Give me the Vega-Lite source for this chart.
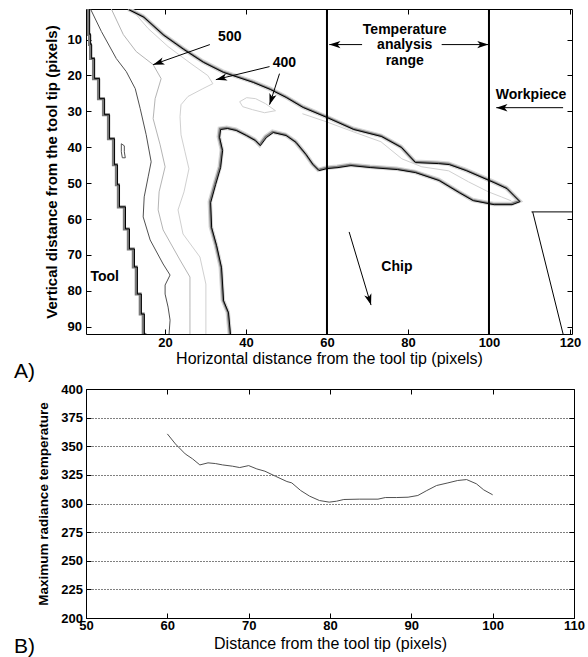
{
  "$schema": "https://vega.github.io/schema/vega-lite/v6.json",
  "autosize": {"type": "pad"},
  "padding": {"left": 13, "top": 7, "right": 2, "bottom": 0},
  "spacing": -1,
  "columns": 1,
  "align": "none",
  "background": "white",
  "config": {
    "font": "Liberation Sans",
    "view": {"stroke": "black", "strokeWidth": 1},
    "axis": {"domain": false, "grid": false, "tickColor": "black", "tickSize": -5, "labelColor": "black", "titleColor": "black", "labelFontSize": 13, "labelFontWeight": "bold", "labelFlush": false, "titleFontWeight": "normal"}
  },
  "datasets": {
    "contours": [
      {"id":"tool","i":0,"x":1.11,"y":1.5},{"id":"tool","i":1,"x":1.36,"y":8.61},{"id":"tool","i":2,"x":1.61,"y":11.41},{"id":"tool","i":3,"x":2.34,"y":15.31},{"id":"tool","i":4,"x":3.57,"y":20.89},{"id":"tool","i":5,"x":4.8,"y":26.47},{"id":"tool","i":6,"x":6.03,"y":30.94},{"id":"tool","i":7,"x":7.26,"y":37.63},{"id":"tool","i":8,"x":7.99,"y":44.89},{"id":"tool","i":9,"x":8.48,"y":50.47},{"id":"tool","i":10,"x":9.96,"y":56.61},{"id":"tool","i":11,"x":10.94,"y":62.74},{"id":"tool","i":12,"x":12.17,"y":68.33},{"id":"tool","i":13,"x":12.9,"y":73.35},{"id":"tool","i":14,"x":13.88,"y":80.88},{"id":"tool","i":15,"x":14.62,"y":86.46},{"id":"tool","i":16,"x":15.12,"y":92},
      {"id":"d","i":0,"x":1.61,"y":1.5},{"id":"d","i":1,"x":4.31,"y":7.78},{"id":"d","i":2,"x":7.99,"y":15.31},{"id":"d","i":3,"x":10.45,"y":18.94},{"id":"d","i":4,"x":12.66,"y":23.68},{"id":"d","i":5,"x":13.89,"y":29.26},{"id":"d","i":6,"x":15.36,"y":36.52},{"id":"d","i":7,"x":16.59,"y":44.05},{"id":"d","i":8,"x":15.85,"y":48.24},{"id":"d","i":9,"x":14.87,"y":53.82},{"id":"d","i":10,"x":14.62,"y":59.4},{"id":"d","i":11,"x":16.34,"y":65.82},{"id":"d","i":12,"x":19.54,"y":72.51},{"id":"d","i":13,"x":21.26,"y":75.58},{"id":"d","i":14,"x":20.03,"y":78.37},{"id":"d","i":15,"x":20.03,"y":80.88},{"id":"d","i":16,"x":20.77,"y":84.51},{"id":"d","i":17,"x":21.26,"y":88.14},{"id":"d","i":18,"x":21.01,"y":92},
      {"id":"isl2","i":0,"x":9.22,"y":39.03},{"id":"isl2","i":1,"x":9.96,"y":39.59},{"id":"isl2","i":2,"x":9.96,"y":41.26},{"id":"isl2","i":3,"x":10.2,"y":42.93},{"id":"isl2","i":4,"x":9.47,"y":42.93},{"id":"isl2","i":5,"x":9.22,"y":41.26},{"id":"isl2","i":6,"x":9.22,"y":39.03},
      {"id":"a","i":0,"x":6.76,"y":1.5},{"id":"a","i":1,"x":9.71,"y":8.61},{"id":"a","i":2,"x":12.9,"y":13.36},{"id":"a","i":3,"x":17.08,"y":16.99},{"id":"a","i":4,"x":19.05,"y":20.89},{"id":"a","i":5,"x":17.57,"y":26.47},{"id":"a","i":6,"x":17.08,"y":32.05},{"id":"a","i":7,"x":18.8,"y":39.31},{"id":"a","i":8,"x":20.03,"y":45.44},{"id":"a","i":9,"x":18.55,"y":52.42},{"id":"a","i":10,"x":18.31,"y":57.44},{"id":"a","i":11,"x":19.54,"y":63.02},{"id":"a","i":12,"x":23.71,"y":71.39},{"id":"a","i":13,"x":26.17,"y":76.14},{"id":"a","i":14,"x":26.17,"y":84.51},{"id":"a","i":15,"x":26.17,"y":92},
      {"id":"b","i":0,"x":11.68,"y":1.5},{"id":"b","i":1,"x":15.85,"y":6.94},{"id":"b","i":2,"x":20.77,"y":11.96},{"id":"b","i":3,"x":26.42,"y":16.71},{"id":"b","i":4,"x":30.59,"y":20.05},{"id":"b","i":5,"x":31.82,"y":22.29},{"id":"b","i":6,"x":29.36,"y":23.68},{"id":"b","i":7,"x":25.68,"y":25.86},{"id":"b","i":8,"x":23.96,"y":28.15},{"id":"b","i":9,"x":23.71,"y":31.49},{"id":"b","i":10,"x":23.96,"y":36.52},{"id":"b","i":11,"x":24.94,"y":41.26},{"id":"b","i":12,"x":25.92,"y":46.0},{"id":"b","i":13,"x":24.7,"y":52.42},{"id":"b","i":14,"x":23.22,"y":57.44},{"id":"b","i":15,"x":24.45,"y":64.14},{"id":"b","i":16,"x":28.63,"y":70.56},{"id":"b","i":17,"x":30.1,"y":78.09},{"id":"b","i":18,"x":30.1,"y":92},
      {"id":"isl","i":0,"x":38.45,"y":27.31},{"id":"isl","i":1,"x":40.17,"y":26.19},{"id":"isl","i":2,"x":42.38,"y":26.47},{"id":"isl","i":3,"x":44.84,"y":27.87},{"id":"isl","i":4,"x":47.29,"y":29.82},{"id":"isl","i":5,"x":44.59,"y":30.38},{"id":"isl","i":6,"x":41.64,"y":29.54},{"id":"isl","i":7,"x":39.19,"y":28.7},{"id":"isl","i":8,"x":38.45,"y":27.31},
      {"id":"strip","i":0,"x":53.93,"y":30.66},{"id":"strip","i":1,"x":59.82,"y":32.89},{"id":"strip","i":2,"x":66.45,"y":35.68},{"id":"strip","i":3,"x":73.33,"y":38.47},{"id":"strip","i":4,"x":78.49,"y":43.21},{"id":"strip","i":5,"x":83.41,"y":45.44},{"id":"strip","i":6,"x":90.04,"y":46.56},{"id":"strip","i":7,"x":94.95,"y":49.63},{"id":"strip","i":8,"x":99.87,"y":52.42},{"id":"strip","i":9,"x":103.06,"y":53.82},{"id":"strip","i":10,"x":105.51,"y":54.93},
      {"id":"chip","i":0,"x":35.99,"y":92},{"id":"chip","i":1,"x":35.5,"y":85.9},{"id":"chip","i":2,"x":34.28,"y":82.56},{"id":"chip","i":3,"x":33.78,"y":73.35},{"id":"chip","i":4,"x":32.56,"y":67.21},{"id":"chip","i":5,"x":31.33,"y":62.19},{"id":"chip","i":6,"x":31.08,"y":55.21},{"id":"chip","i":7,"x":32.31,"y":50.19},{"id":"chip","i":8,"x":33.54,"y":45.44},{"id":"chip","i":9,"x":34.03,"y":40.7},{"id":"chip","i":10,"x":33.29,"y":37.07},{"id":"chip","i":11,"x":33.54,"y":34.84},{"id":"chip","i":12,"x":35.26,"y":34.56},{"id":"chip","i":13,"x":37.47,"y":35.12},{"id":"chip","i":14,"x":39.93,"y":36.52},{"id":"chip","i":15,"x":42.14,"y":37.91},{"id":"chip","i":16,"x":43.36,"y":39.31},{"id":"chip","i":17,"x":44.84,"y":37.07},{"id":"chip","i":18,"x":46.56,"y":35.68},{"id":"chip","i":19,"x":49.75,"y":36.52},{"id":"chip","i":20,"x":52.21,"y":38.47},{"id":"chip","i":21,"x":54.66,"y":41.82},{"id":"chip","i":22,"x":56.38,"y":44.61},{"id":"chip","i":23,"x":57.86,"y":46.28},{"id":"chip","i":24,"x":59.82,"y":45.72},{"id":"chip","i":25,"x":62.52,"y":45.44},{"id":"chip","i":26,"x":65.72,"y":44.89},{"id":"chip","i":27,"x":70.63,"y":45.44},{"id":"chip","i":28,"x":77.26,"y":46.0},{"id":"chip","i":29,"x":81.68,"y":46.84},{"id":"chip","i":30,"x":87.57,"y":49.07},{"id":"chip","i":31,"x":92.49,"y":52.42},{"id":"chip","i":32,"x":95.93,"y":54.65},{"id":"chip","i":33,"x":101.09,"y":55.77},{"id":"chip","i":34,"x":105.51,"y":55.77},{"id":"chip","i":35,"x":107.47,"y":54.93},{"id":"chip","i":36,"x":106.0,"y":53.26},{"id":"chip","i":37,"x":104.28,"y":51.3},{"id":"chip","i":38,"x":101.09,"y":49.63},{"id":"chip","i":39,"x":94.21,"y":46.28},{"id":"chip","i":40,"x":90.04,"y":44.61},{"id":"chip","i":41,"x":87.34,"y":44.33},{"id":"chip","i":42,"x":81.68,"y":44.05},{"id":"chip","i":43,"x":78.24,"y":39.86},{"id":"chip","i":44,"x":73.33,"y":36.8},{"id":"chip","i":45,"x":66.45,"y":34.84},{"id":"chip","i":46,"x":59.82,"y":31.49},{"id":"chip","i":47,"x":53.93,"y":28.7},{"id":"chip","i":48,"x":49.75,"y":25.91},{"id":"chip","i":49,"x":45.82,"y":23.68},{"id":"chip","i":50,"x":41.64,"y":21.73},{"id":"chip","i":51,"x":34.28,"y":18.94},{"id":"chip","i":52,"x":29.36,"y":16.15},{"id":"chip","i":53,"x":24.45,"y":12.52},{"id":"chip","i":54,"x":19.54,"y":8.61},{"id":"chip","i":55,"x":14.62,"y":3.59},{"id":"chip","i":56,"x":10.94,"y":1.5}
    ],
    "arrows": [
      {"x":31.08,"y":11.41,"x2":17.08,"y2":16.99},
      {"x":45.82,"y":17.54,"x2":32.56,"y2":21.17},
      {"x":48.28,"y":19.5,"x2":45.82,"y2":28.15},
      {"x":68.67,"y":11.41,"x2":60.56,"y2":11.41},
      {"x":88.32,"y":11.41,"x2":99.87,"y2":11.41},
      {"x":118.3,"y":28.98,"x2":101.8,"y2":28.98},
      {"x":65.47,"y":63.58,"x2":70.88,"y2":83.95}
    ],
    "segments": [
      {"x":110.5,"y":58,"x2":120.5,"y2":58},
      {"x":110.8,"y":58,"x2":118.3,"y2":92}
    ],
    "notes": [
      {"x":36.0,"y":9.17,"t":"500"},
      {"x":49.5,"y":16.43,"t":"400"},
      {"x":79.2,"y":7.22,"t":"Temperature"},
      {"x":79.2,"y":11.41,"t":"analysis"},
      {"x":79.2,"y":15.87,"t":"range"},
      {"x":110.4,"y":25.36,"t":"Workpiece"},
      {"x":77.26,"y":73.35,"t":"Chip"}
    ],
    "temp": [
      {"x":60,"y":360.8},{"x":61,"y":352},{"x":62.2,"y":343.3},{"x":63.1,"y":339},{"x":64,"y":333.7},{"x":65,"y":335.5},{"x":65.9,"y":334.9},{"x":66.8,"y":333.7},{"x":68,"y":332.6},{"x":68.9,"y":331.4},{"x":70,"y":333.1},{"x":71,"y":330.2},{"x":72,"y":328.2},{"x":73.3,"y":323.8},{"x":74.7,"y":319.2},{"x":75.3,"y":318},{"x":76.4,"y":311.3},{"x":77.5,"y":306.4},{"x":78.7,"y":302.6},{"x":79.9,"y":301.2},{"x":80.8,"y":302},{"x":81.7,"y":303.5},{"x":83.6,"y":303.8},{"x":85.9,"y":303.8},{"x":86.8,"y":305.2},{"x":88.2,"y":305.2},{"x":89.6,"y":305.5},{"x":90.8,"y":307},{"x":91.9,"y":311.3},{"x":93.1,"y":315.7},{"x":94.5,"y":318},{"x":95.7,"y":320.1},{"x":96.8,"y":320.9},{"x":98,"y":317.2},{"x":98.9,"y":311.9},{"x":100,"y":307.6}
    ]
  },
  "concat": [
    {
      "width": 486,
      "height": 325,
      "resolve": {"axis": {"x": "independent", "y": "independent"}},
      "layer": [
        {
          "data": {"name": "contours"},
          "transform": [{"filter": {"field": "id", "oneOf": ["b", "isl", "strip"]}}],
          "mark": {"type": "line", "color": "#d0d0d0", "strokeWidth": 1, "clip": true},
          "encoding": {
            "x": {"field": "x", "type": "quantitative", "scale": {"domain": [0.5, 120.5], "nice": false, "zero": false},
                  "axis": {"orient": "bottom", "values": [20, 40, 60, 80, 100, 120], "labelPadding": 7, "title": "Horizontal distance from the tool tip (pixels)", "titleFontSize": 16, "titlePadding": 1}},
            "y": {"field": "y", "type": "quantitative", "scale": {"domain": [1.5, 92], "nice": false, "zero": false, "reverse": true},
                  "axis": {"orient": "left", "values": [10, 20, 30, 40, 50, 60, 70, 80, 90], "labelPadding": 9.5, "title": "Vertical distance from the tool tip (pixels)", "titleFontSize": 15, "titleFontWeight": "bold", "titlePadding": 8}},
            "detail": {"field": "id"},
            "order": {"field": "i"}
          }
        },
        {
          "data": {"name": "contours"},
          "transform": [{"filter": {"field": "id", "oneOf": ["a"]}}],
          "mark": {"type": "line", "color": "#b4b4b4", "strokeWidth": 1, "clip": true},
          "encoding": {
            "x": {"field": "x", "type": "quantitative", "axis": {"orient": "top", "values": [20, 40, 60, 80, 100, 120], "labels": false, "title": null}},
            "y": {"field": "y", "type": "quantitative", "axis": {"orient": "right", "values": [10, 20, 30, 40, 50, 60, 70, 80, 90], "labels": false, "title": null}},
            "detail": {"field": "id"},
            "order": {"field": "i"}
          }
        },
        {
          "data": {"name": "contours"},
          "transform": [{"filter": {"field": "id", "oneOf": ["d", "isl2"]}}],
          "mark": {"type": "line", "color": "#505050", "strokeWidth": 1, "clip": true},
          "encoding": {
            "x": {"field": "x", "type": "quantitative", "axis": null},
            "y": {"field": "y", "type": "quantitative", "axis": null},
            "detail": {"field": "id"},
            "order": {"field": "i"}
          }
        },
        {
          "data": {"name": "contours"},
          "transform": [{"filter": {"field": "id", "oneOf": ["chip"]}}],
          "mark": {"type": "line", "color": "#d6d6d6", "strokeWidth": 4.5, "clip": true},
          "encoding": {
            "x": {"field": "x", "type": "quantitative", "axis": null},
            "y": {"field": "y", "type": "quantitative", "axis": null},
            "order": {"field": "i"}
          }
        },
        {
          "data": {"name": "contours"},
          "transform": [{"filter": {"field": "id", "oneOf": ["chip"]}}],
          "mark": {"type": "line", "color": "#808080", "strokeWidth": 2, "clip": true},
          "encoding": {
            "x": {"field": "x", "type": "quantitative", "axis": null},
            "y": {"field": "y", "type": "quantitative", "axis": null},
            "order": {"field": "i"}
          }
        },
        {
          "data": {"name": "contours"},
          "transform": [{"filter": {"field": "id", "oneOf": ["chip"]}}],
          "mark": {"type": "line", "color": "black", "strokeWidth": 1, "clip": true, "xOffset": 0.8, "yOffset": 0.8},
          "encoding": {
            "x": {"field": "x", "type": "quantitative", "axis": null},
            "y": {"field": "y", "type": "quantitative", "axis": null},
            "order": {"field": "i"}
          }
        },
        {
          "data": {"name": "contours"},
          "transform": [{"filter": {"field": "id", "oneOf": ["tool"]}}],
          "mark": {"type": "line", "color": "#7a7a7a", "strokeWidth": 3, "interpolate": "step-before", "clip": true},
          "encoding": {
            "x": {"field": "x", "type": "quantitative", "axis": null},
            "y": {"field": "y", "type": "quantitative", "axis": null},
            "order": {"field": "i"}
          }
        },
        {
          "data": {"name": "contours"},
          "transform": [{"filter": {"field": "id", "oneOf": ["tool"]}}],
          "mark": {"type": "line", "color": "black", "strokeWidth": 1, "interpolate": "step-before", "clip": true, "xOffset": 1.2},
          "encoding": {
            "x": {"field": "x", "type": "quantitative", "axis": null},
            "y": {"field": "y", "type": "quantitative", "axis": null},
            "order": {"field": "i"}
          }
        },
        {
          "data": {"values": [{"x": 60}, {"x": 100}]},
          "mark": {"type": "rule", "color": "black", "strokeWidth": 2},
          "encoding": {
            "x": {"field": "x", "type": "quantitative", "axis": null}
          }
        },
        {
          "data": {"name": "segments"},
          "mark": {"type": "rule", "color": "black", "strokeWidth": 1},
          "encoding": {
            "x": {"field": "x", "type": "quantitative", "axis": null},
            "y": {"field": "y", "type": "quantitative", "axis": null},
            "x2": {"field": "x2"},
            "y2": {"field": "y2"}
          }
        },
        {
          "data": {"name": "arrows"},
          "mark": {"type": "rule", "color": "black", "strokeWidth": 1},
          "encoding": {
            "x": {"field": "x", "type": "quantitative", "axis": null},
            "y": {"field": "y", "type": "quantitative", "axis": null},
            "x2": {"field": "x2"},
            "y2": {"field": "y2"}
          }
        },
        {
          "data": {"name": "arrows"},
          "transform": [{"calculate": "atan2((datum.x2 - datum.x) * 4.05, (datum.y - datum.y2) * 3.584) * 180 / PI", "as": "ang"}],
          "mark": {"type": "point", "shape": "M0,0L0.38,1.15L0,0.85L-0.38,1.15Z", "size": 380, "filled": true, "color": "black", "opacity": 1, "strokeWidth": 0},
          "encoding": {
            "x": {"field": "x2", "type": "quantitative", "axis": null},
            "y": {"field": "y2", "type": "quantitative", "axis": null},
            "angle": {"field": "ang", "type": "quantitative", "scale": null}
          }
        },
        {
          "data": {"name": "notes"},
          "mark": {"type": "text", "fontSize": 14, "fontWeight": "bold", "align": "center", "baseline": "middle", "color": "black"},
          "encoding": {
            "x": {"field": "x", "type": "quantitative", "axis": null},
            "y": {"field": "y", "type": "quantitative", "axis": null},
            "text": {"field": "t"}
          }
        },
        {
          "data": {"values": [{"x": 1.6, "y": 76.14, "t": "Tool"}]},
          "mark": {"type": "text", "fontSize": 14, "fontWeight": "bold", "align": "left", "baseline": "middle", "color": "black"},
          "encoding": {
            "x": {"field": "x", "type": "quantitative", "axis": null},
            "y": {"field": "y", "type": "quantitative", "axis": null},
            "text": {"field": "t"}
          }
        },
        {
          "data": {"values": [{"x": -17.28, "y": 102.65, "t": "A)"}]},
          "mark": {"type": "text", "fontSize": 21, "align": "left", "baseline": "middle", "color": "black"},
          "encoding": {
            "x": {"field": "x", "type": "quantitative", "axis": null},
            "y": {"field": "y", "type": "quantitative", "axis": null},
            "text": {"field": "t"}
          }
        }
      ]
    },
    {
      "width": 488,
      "height": 229,
      "resolve": {"axis": {"x": "independent", "y": "independent"}},
      "layer": [
        {
          "data": {"name": "temp"},
          "mark": {"type": "line", "color": "#505050", "strokeWidth": 1},
          "encoding": {
            "x": {"field": "x", "type": "quantitative", "scale": {"domain": [50, 110], "nice": false, "zero": false},
                  "axis": {"orient": "bottom", "values": [50, 60, 70, 80, 90, 100, 110], "labelPadding": 6.7, "title": "Distance from the tool tip (pixels)", "titleFontSize": 16, "titlePadding": 3}},
            "y": {"field": "y", "type": "quantitative", "scale": {"domain": [200, 400], "nice": false, "zero": false},
                  "axis": {"orient": "left", "values": [200, 225, 250, 275, 300, 325, 350, 375, 400], "labelPadding": 8.5, "grid": true, "gridDash": [1, 2], "gridColor": "black", "gridOpacity": 1, "title": "Maximum radiance temperature", "titleFontSize": 13.5, "titleFontWeight": "bold", "titlePadding": 10}}
          }
        },
        {
          "data": {"values": [{"x": 41.15, "y": 175, "t": "B)"}]},
          "mark": {"type": "text", "fontSize": 21, "align": "left", "baseline": "middle", "color": "black"},
          "encoding": {
            "x": {"field": "x", "type": "quantitative", "axis": {"orient": "top", "values": [50, 60, 70, 80, 90, 100, 110], "labels": false, "title": null}},
            "y": {"field": "y", "type": "quantitative", "axis": {"orient": "right", "values": [200, 225, 250, 275, 300, 325, 350, 375, 400], "labels": false, "title": null}},
            "text": {"field": "t"}
          }
        }
      ]
    }
  ]
}
